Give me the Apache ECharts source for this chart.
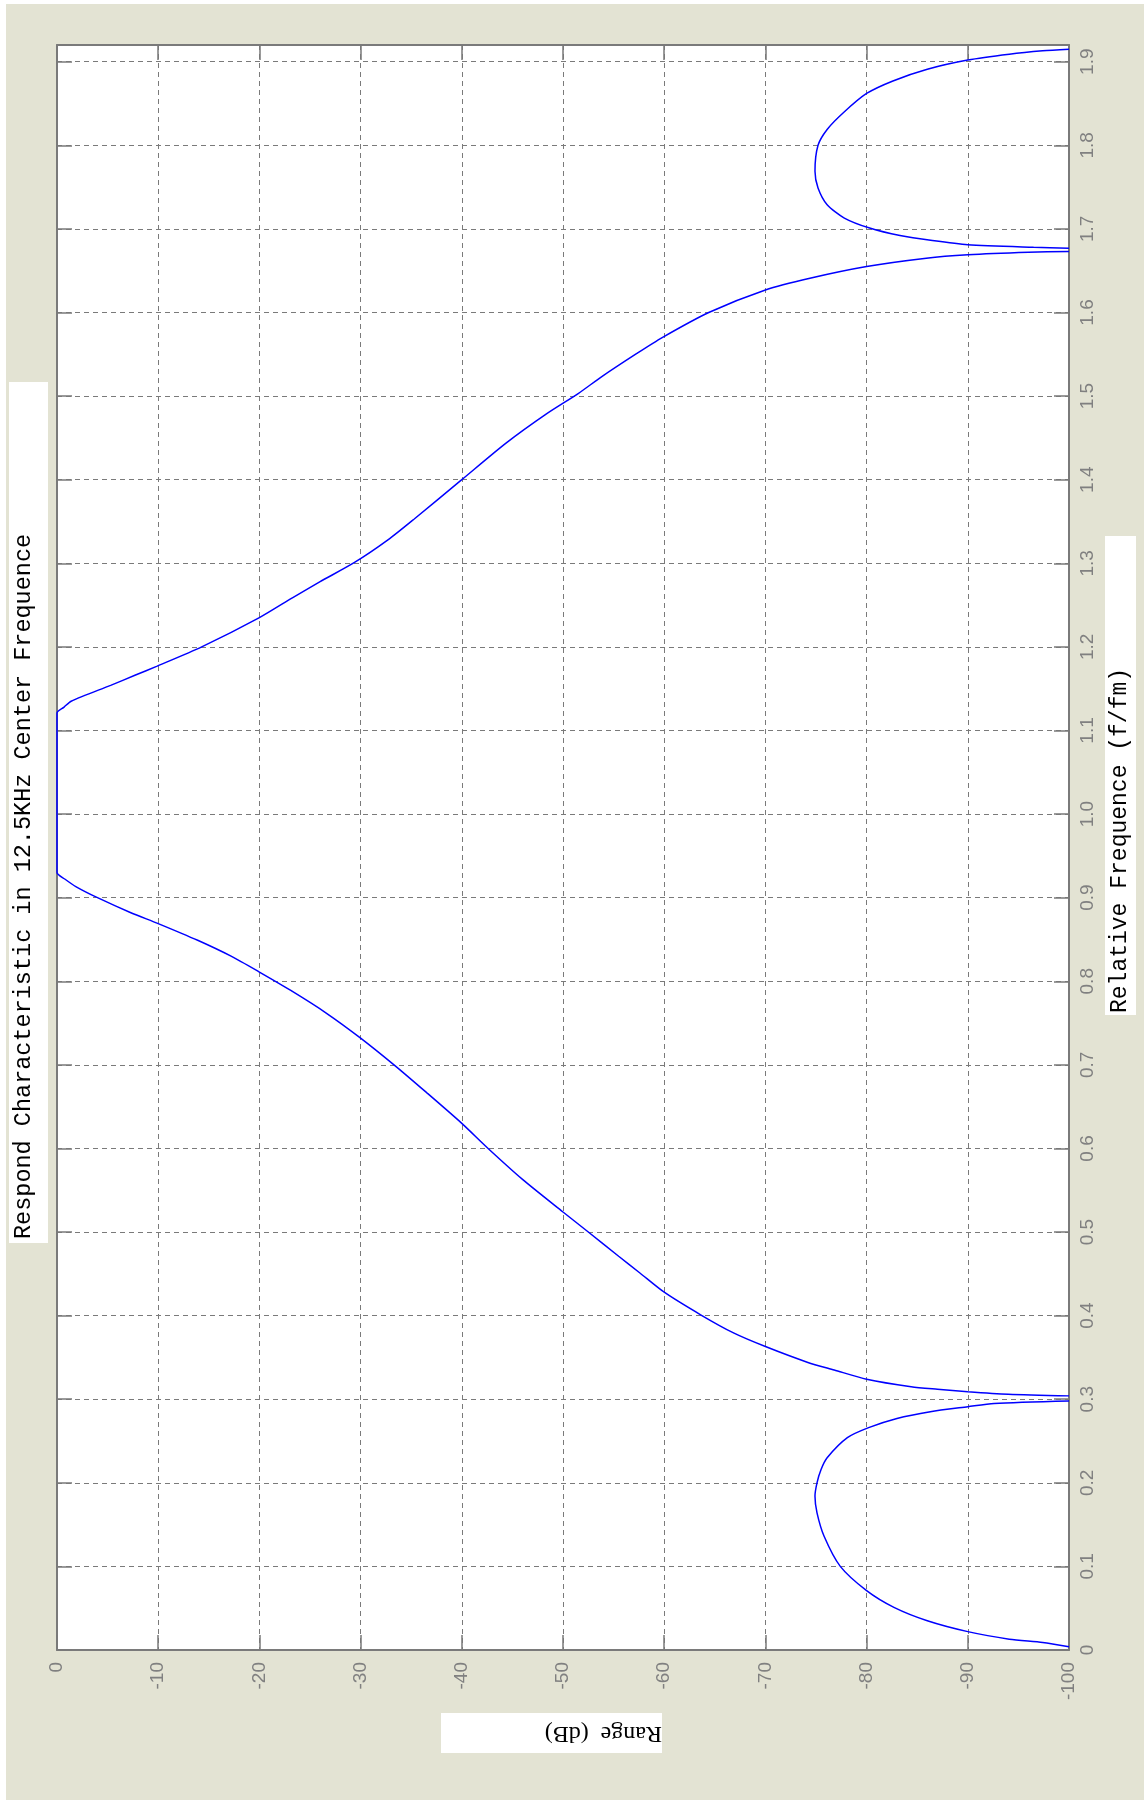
<!DOCTYPE html>
<html>
<head>
<meta charset="utf-8">
<title>Respond Characteristic</title>
<script src="https://cdn.jsdelivr.net/npm/echarts@6/dist/echarts.min.js"></script>
<style>
  html, body { margin: 0; padding: 0; background: #fff; }
  #wrap { position: relative; width: 1144px; height: 1800px; }
  #bg { position: absolute; left: 6px; top: 4px; right: 0; bottom: 0; background: #e3e3d3; }
  #chart { position: absolute; left: 0; top: 0; width: 1144px; height: 1800px; }
</style>
</head>
<body>
<div id="wrap">
  <div id="bg"></div>
  <div id="chart"></div>
</div>
<script>
// main pass band curve (relative frequency f/fm -> range dB)
const mainFreq = [0.304, 0.306, 0.309, 0.312, 0.315, 0.324, 0.335, 0.344, 0.363, 0.379,
  0.401, 0.428, 0.451, 0.471, 0.500, 0.524, 0.563, 0.600, 0.630, 0.667,
  0.700, 0.732, 0.762, 0.789, 0.811, 0.830, 0.849, 0.869, 0.882, 0.900,
  0.913, 0.922, 0.930, 1.000, 1.121, 1.128, 1.135, 1.154, 1.166, 1.177,
  1.200, 1.235, 1.259, 1.278, 1.301, 1.328, 1.353, 1.400, 1.444, 1.479,
  1.503, 1.523, 1.551, 1.570, 1.600, 1.627, 1.641, 1.655, 1.665, 1.669,
  1.672, 1.673];
const mainDb = [-100, -94, -90, -87, -84.4, -80, -76.8, -74.2, -70, -66.9,
  -63.6, -60, -57.6, -55.5, -52.5, -50, -46, -42.6, -40, -36.5,
  -33.3, -30, -26.6, -23.1, -20, -17.2, -13.9, -10, -7.3, -4.0,
  -1.9, -0.8, 0, 0, 0, -0.7, -1.4, -5.3, -7.7, -9.9,
  -14.3, -20, -23.3, -26.0, -29.4, -32.7, -35.3, -40, -44.4, -48.4,
  -51.5, -53.8, -57.3, -59.8, -64.4, -70, -74.4, -80, -85.9, -90,
  -96, -100];

// lower side lobe
const lowFreq = [0.004, 0.009, 0.013, 0.022, 0.035, 0.051, 0.071, 0.100, 0.136, 0.164,
  0.184, 0.200, 0.216, 0.230, 0.254, 0.266, 0.277, 0.285, 0.291, 0.295, 0.298];
const lowDb = [-100, -97.4, -94.1, -90, -86, -82.7, -80, -77.4, -75.8, -75.1,
  -74.9, -75.1, -75.5, -76.1, -78.1, -80.2, -83, -86.3, -90, -92.6, -100];

// upper side lobe
const highFreq = [1.677, 1.678, 1.681, 1.686, 1.692, 1.701, 1.713, 1.729, 1.749, 1.769,
  1.800, 1.819, 1.839, 1.862, 1.877, 1.891, 1.902, 1.909, 1.913, 1.915];
const highDb = [-100, -96.5, -90, -86.5, -83.3, -80.3, -77.8, -76.1, -75.2, -74.9,
  -75.2, -76.1, -77.7, -80, -82.6, -86, -90, -94.1, -97.4, -100];

const titleText = "Respond Characteristic in 12.5KHz Center Frequence";
const freqLabel = "Relative Frequence (f/fm)";
const rangeLabel = "Range  (dB)";

const pairs = (f, d) => f.map((v, i) => [d[i], v]);

const axisGray = "#7a7a7a";
const labelFont = "Liberation Sans";
const monoFont = "Liberation Mono";

const chart = echarts.init(document.getElementById("chart"), null, { renderer: "canvas" });

const boxAxisLine = { show: true, onZero: false, lineStyle: { color: axisGray, width: 2 } };
const boxTick = { show: true, inside: true, length: 15, lineStyle: { color: axisGray, width: 1.5 } };
const dashGrid = { show: true, lineStyle: { color: "#7a7a7a", width: 1, type: [5, 4] } };

const lineSeries = (data) => ({
  type: "line",
  data: data,
  xAxisIndex: 0,
  yAxisIndex: 0,
  showSymbol: false,
  symbol: "none",
  smooth: 0.25,
  clip: true,
  lineStyle: { color: "#0000ff", width: 1.5 },
});

const option = {
  animation: false,
  backgroundColor: "transparent",
  grid: {
    show: true,
    left: 57,
    top: 45,
    right: 75,
    bottom: 150,
    backgroundColor: "#ffffff",
    borderWidth: 0,
  },
  xAxis: [
    {
      type: "value",
      position: "bottom",
      min: -100,
      max: 0,
      interval: 10,
      inverse: true,
      axisLine: boxAxisLine,
      axisTick: boxTick,
      axisLabel: {
        rotate: 90,
        margin: 12,
        color: "#808080",
        fontFamily: labelFont,
        fontSize: 19,
      },
      splitLine: dashGrid,
    },
    {
      type: "value",
      position: "top",
      min: -100,
      max: 0,
      interval: 10,
      inverse: true,
      axisLine: boxAxisLine,
      axisTick: boxTick,
      axisLabel: { show: false },
      splitLine: { show: false },
    },
  ],
  yAxis: [
    {
      type: "value",
      position: "right",
      min: 0,
      max: 1.92,
      interval: 0.1,
      axisLine: boxAxisLine,
      axisTick: boxTick,
      axisLabel: {
        rotate: 90,
        margin: 9,
        color: "#808080",
        fontFamily: labelFont,
        fontSize: 19,
        showMaxLabel: false,
        formatter: (v) => {
          const r = Math.round(v * 10) / 10;
          if (Math.abs(v - r) > 1e-6) return "";
          return r === 0 ? "0" : r.toFixed(1);
        },
      },
      splitLine: dashGrid,
    },
    {
      type: "value",
      position: "left",
      min: 0,
      max: 1.92,
      interval: 0.1,
      axisLine: boxAxisLine,
      axisTick: boxTick,
      axisLabel: { show: false },
      splitLine: { show: false },
    },
  ],
  graphic: [
    // title box, rotated text on the left
    { type: "rect", left: 9, top: 382, shape: { width: 39, height: 861 }, style: { fill: "#ffffff" }, z: 10 },
    {
      type: "text", x: 24, y: 1239, rotation: Math.PI / 2, z: 11,
      style: { text: titleText, fill: "#000", font: "23.5px " + monoFont, textAlign: "left", textVerticalAlign: "middle" },
    },
    // frequency axis name box on the right
    { type: "rect", left: 1105, top: 536, shape: { width: 31, height: 479 }, style: { fill: "#ffffff" }, z: 10 },
    {
      type: "text", x: 1120, y: 1013, rotation: Math.PI / 2, z: 11,
      style: { text: freqLabel, fill: "#000", font: "23px " + monoFont, textAlign: "left", textVerticalAlign: "middle" },
    },
    // range axis name box at the bottom, upside down
    { type: "rect", left: 441, top: 1713, shape: { width: 221, height: 40 }, style: { fill: "#ffffff" }, z: 10 },
    {
      type: "text", x: 662, y: 1733, rotation: Math.PI, z: 11,
      style: { text: rangeLabel, fill: "#000", font: "24px Liberation Serif", textAlign: "left", textVerticalAlign: "middle" },
    },
  ],
  series: [
    lineSeries(pairs(mainFreq, mainDb)),
    lineSeries(pairs(lowFreq, lowDb)),
    lineSeries(pairs(highFreq, highDb)),
  ],
};

chart.setOption(option);
window.addEventListener("resize", () => chart.resize());
</script>
</body>
</html>
